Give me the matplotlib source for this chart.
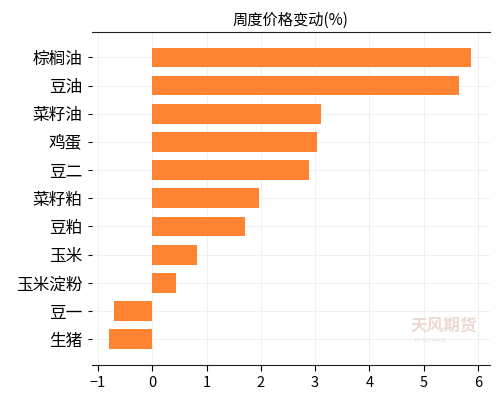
import matplotlib
matplotlib.use("Agg")
import matplotlib.pyplot as plt

plt.rcParams['font.family'] = ['Noto Sans CJK SC', 'DejaVu Sans']
plt.rcParams['axes.unicode_minus'] = False

categories = ['棕榈油', '豆油', '菜籽油', '鸡蛋', '豆二', '菜籽粕', '豆粕', '玉米', '玉米淀粉', '豆一', '生猪']
values = [5.87, 5.65, 3.11, 3.04, 2.89, 1.97, 1.71, 0.83, 0.44, -0.70, -0.79]
title = '周度价格变动(%)'

fig = plt.figure(figsize=(5.04, 3.96), dpi=100)
ax = fig.add_axes([0.1825, 0.078, 0.7895, 0.841])
ypos = list(range(len(categories)))
ax.barh(ypos, values, height=0.7, color='#FE8434', zorder=3)
ax.set_yticks(ypos)
ax.set_yticklabels(categories, fontsize=12)
ax.set_ylim(10.92, -0.9)
ax.set_xlim(-1.11, 6.22)
ax.set_xticks([-1, 0, 1, 2, 3, 4, 5, 6])
ax.set_xticklabels(['−1', '0', '1', '2', '3', '4', '5', '6'], fontsize=10.5)
ax.grid(True, color='#eeeeee', linewidth=0.6, linestyle='-', zorder=0)
for s in ['left', 'right']:
    ax.spines[s].set_visible(False)
ax.spines['top'].set_color('#222222')
ax.spines['bottom'].set_color('#222222')
ax.tick_params(axis='y', length=3, width=0.8, pad=4)
ax.tick_params(axis='x', length=4, width=0.8)
ax.set_title(title, fontsize=11, pad=5)
ax.text(0.885, 0.118, '天风期货', transform=ax.transAxes, fontsize=12, color='#eed8d2',
        ha='center', va='center', fontweight='bold', zorder=4)
ax.text(0.85, 0.075, 'TF FUTURES', transform=ax.transAxes, fontsize=4, color='#e2e2e2',
        ha='center', va='center', zorder=4)
fig.savefig('out.png', dpi=100)
